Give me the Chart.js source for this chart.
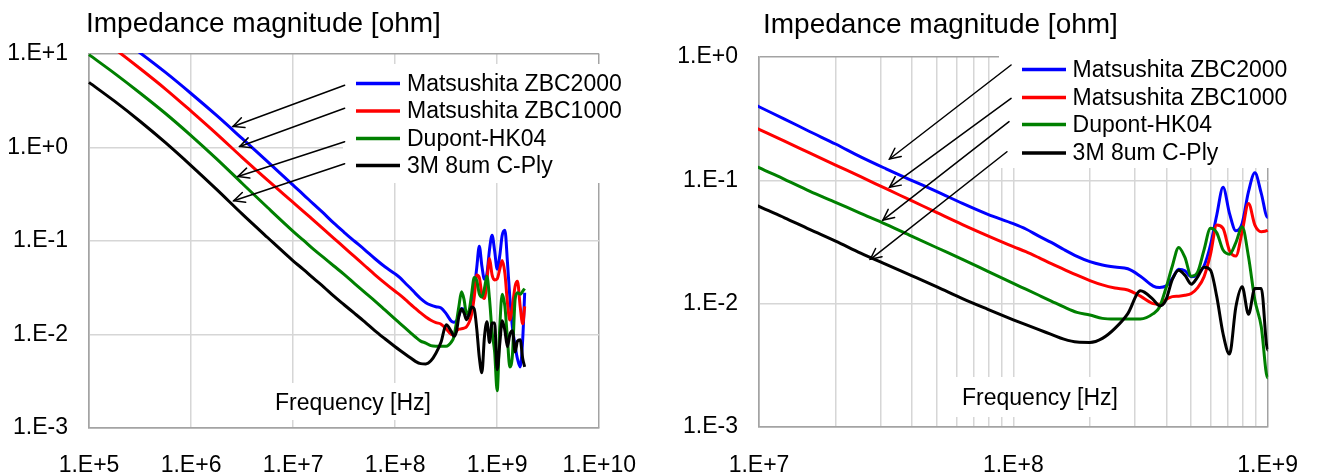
<!DOCTYPE html>
<html><head><meta charset="utf-8">
<script src="https://cdn.jsdelivr.net/npm/chart.js@4.4.1/dist/chart.umd.min.js"></script>
<style>
html,body{margin:0;padding:0;background:#fff;}
#wrap{position:relative;width:1323px;height:474px;overflow:hidden;}
#c1{position:absolute;left:0;top:0;}
#c2{position:absolute;left:660px;top:0;}
</style></head><body>
<div id="wrap">
<canvas id="c1" width="660" height="474" style="width:660px;height:474px"></canvas>
<canvas id="c2" width="663" height="474" style="width:663px;height:474px"></canvas>
</div>
<script>
// ---------- data ----------
const freq = [
  1e5, 1.78e5, 3.16e5, 5.62e5, 1e6, 1.78e6, 3.16e6, 5.62e6,
  1e7, 1.26e7, 1.58e7, 2e7, 2.51e7, 3.16e7, 3.98e7, 5.01e7, 6.31e7, 7.94e7,
  1e8, 1.12e8, 1.26e8, 1.41e8, 1.58e8, 1.78e8, 2e8, 2.24e8, 2.51e8, 2.82e8, 3.16e8,
  3.55e8, 3.76e8, 3.98e8, 4.22e8, 4.47e8, 4.73e8, 5.01e8, 5.31e8, 5.62e8, 5.96e8,
  6.31e8, 6.68e8, 7.08e8, 7.5e8, 7.94e8, 8.41e8, 8.91e8, 9.44e8, 1e9,
  1.06e9, 1.12e9, 1.19e9, 1.26e9, 1.33e9, 1.41e9, 1.5e9, 1.58e9, 1.68e9, 1.78e9, 1.86e9
];
const zbc2000 = [
  25, 16.3, 10.3, 6.35, 3.78, 2.2, 1.25, 0.705,
  0.395, 0.314, 0.249, 0.197, 0.155, 0.124, 0.1, 0.081, 0.065, 0.053,
  0.0445, 0.0403, 0.0353, 0.0314, 0.0275, 0.0242, 0.0219, 0.0206, 0.0198, 0.0192, 0.0167,
  0.0139, 0.01355, 0.0139, 0.016, 0.019, 0.0185, 0.0165, 0.0174, 0.0202, 0.0299,
  0.0523, 0.0877, 0.054, 0.039, 0.0448, 0.0809, 0.115, 0.0784, 0.05,
  0.07, 0.115, 0.13, 0.06, 0.025, 0.012, 0.0075, 0.0055, 0.0045, 0.009, 0.028
];
const zbc1000 = [
  18, 11.35, 7.0, 4.22, 2.45, 1.4, 0.785, 0.447,
  0.259, 0.208, 0.167, 0.133, 0.107, 0.0855, 0.0684, 0.0547, 0.0438, 0.0355,
  0.029, 0.0264, 0.0236, 0.0211, 0.019, 0.017, 0.0154, 0.0142, 0.0134, 0.0129, 0.0115,
  0.01, 0.0099, 0.0108, 0.0114, 0.0115, 0.0117, 0.0121, 0.0135, 0.0165, 0.0251,
  0.0434, 0.0408, 0.0269, 0.0243, 0.0383, 0.065, 0.0434, 0.0383, 0.0393,
  0.05, 0.062, 0.045, 0.022, 0.0143, 0.02, 0.033, 0.037, 0.02, 0.013, 0.02
];
const hk04 = [
  9.84, 6.21, 3.83, 2.31, 1.34, 0.755, 0.415, 0.228,
  0.127, 0.102, 0.0819, 0.0663, 0.054, 0.044, 0.0353, 0.0284, 0.0229, 0.0183,
  0.0146, 0.0131, 0.0117, 0.0105, 0.0094, 0.0085, 0.0081, 0.0076, 0.0075, 0.0075, 0.0075,
  0.0083, 0.0094, 0.0133, 0.0202, 0.0286, 0.0237, 0.0167, 0.0181, 0.0272, 0.0408,
  0.0376, 0.0272, 0.0252, 0.0312, 0.042, 0.024, 0.0107, 0.0065, 0.0025,
  0.012, 0.027, 0.02, 0.009, 0.0045, 0.006, 0.024, 0.028, 0.027, 0.029, 0.031
];
const cply = [
  4.97, 3.13, 1.91, 1.125, 0.64, 0.356, 0.195, 0.109,
  0.0614, 0.0497, 0.04, 0.0322, 0.0257, 0.0208, 0.0169, 0.0137, 0.011, 0.009,
  0.0074, 0.00675, 0.00615, 0.00564, 0.00516, 0.00488, 0.00485, 0.00523, 0.0063, 0.0083, 0.0127,
  0.0108, 0.0096, 0.0107, 0.0157, 0.0187, 0.017, 0.0144, 0.0165, 0.0197, 0.0187,
  0.0114, 0.0057, 0.0039, 0.0094, 0.0137, 0.0082, 0.0133, 0.0133, 0.0042,
  0.008, 0.014, 0.011, 0.0074, 0.01, 0.011, 0.0065, 0.0085, 0.0088, 0.0055, 0.0045
];
const seriesNames = ['Matsushita ZBC2000', 'Matsushita ZBC1000', 'Dupont-HK04', '3M 8um C-Ply'];
const seriesColors = ['#0000ff', '#ff0000', '#008000', '#000000'];
const seriesValues = [zbc2000, zbc1000, hk04, cply];

const leftXTicks = [1e5, 1e6, 1e7, 1e8, 1e9, 1e10];
const leftXLabels = ['1.E+5', '1.E+6', '1.E+7', '1.E+8', '1.E+9', '1.E+10'];
const leftYTicks = [1e-3, 1e-2, 1e-1, 1e0, 1e1];
const leftYLabels = ['1.E-3', '1.E-2', '1.E-1', '1.E+0', '1.E+1'];
const rightXTicks = [1e7, 1e8, 1e9];
const rightXLabels = ['1.E+7', '1.E+8', '1.E+9'];
const rightXMinor = [2e7, 3e7, 4e7, 5e7, 6e7, 7e7, 8e7, 9e7, 2e8, 3e8, 4e8, 5e8, 6e8, 7e8, 8e8, 9e8];
const rightYTicks = [1e-3, 1e-2, 1e-1, 1e0];
const rightYLabels = ['1.E-3', '1.E-2', '1.E-1', '1.E+0'];

// arrows: legend -> curve (frequency, impedance)
const leftArrowTailF = [3.2e7, 3.2e7, 3.2e7, 3.2e7];
const leftArrowTailZ = [4.63, 2.63, 1.15, 0.669];
const leftArrowHeadF = [2.58e6, 3.0e6, 2.88e6, 2.62e6];
const leftArrowHeadZ = [1.68, 1.025, 0.49, 0.269];
const rightArrowTailF = [9.8e7, 9.8e7, 9.62e7, 9.44e7];
const rightArrowTailZ = [0.861, 0.462, 0.299, 0.1706];
const rightArrowHeadF = [3.26e7, 3.26e7, 3.07e7, 2.74e7];
const rightArrowHeadZ = [0.149, 0.0878, 0.0476, 0.0229];

const TITLE = 'Impedance magnitude [ohm]';
const XTITLE = 'Frequency [Hz]';

// ---------- helpers ----------
const FAM = "'Liberation Sans', Arial, Helvetica, sans-serif";
const GRID = '#d6d6d6';
const BORDER = '#a3a3a3';
const same = (a, b) => Math.abs(Math.log10(a) - Math.log10(b)) < 1e-6;
const labelFor = (ticks, labels) => (v) => {
  const i = ticks.findIndex(t => same(t, v));
  return i >= 0 ? labels[i] : '';
};

const decoPlugin = {
  id: 'deco',
  beforeDatasetsDraw(chart, args, o) {
    const ctx = chart.ctx;
    ctx.save();
    ctx.fillStyle = '#ffffff';
    const b = o.legendBox;
    ctx.fillRect(b[0], b[1], b[2] - b[0], b[3] - b[1]);
    const f = o.xTitle;
    ctx.fillRect(f.box[0], f.box[1], f.box[2] - f.box[0], f.box[3] - f.box[1]);
    ctx.restore();
  },
  afterDatasetsDraw(chart, args, o) {
    const ctx = chart.ctx;
    const xs = chart.scales.x, ys = chart.scales.y;
    ctx.save();
    const f = o.xTitle;
    ctx.fillStyle = '#000';
    ctx.font = f.size + 'px ' + FAM;
    ctx.textAlign = 'center';
    ctx.textBaseline = 'alphabetic';
    ctx.fillText(XTITLE, f.cx, f.baseline);
    ctx.strokeStyle = '#000';
    ctx.lineWidth = 1.5;
    ctx.lineCap = 'round';
    const A = o.arrows;
    for (let i = 0; i < A.tf.length; i++) {
      const x0 = xs.getPixelForValue(A.tf[i]), y0 = ys.getPixelForValue(A.tz[i]);
      const x1 = xs.getPixelForValue(A.hf[i]), y1 = ys.getPixelForValue(A.hz[i]);
      ctx.beginPath(); ctx.moveTo(x0, y0); ctx.lineTo(x1, y1); ctx.stroke();
      const ang = Math.atan2(y0 - y1, x0 - x1);
      const L = 12, w = 0.45;
      ctx.beginPath();
      ctx.moveTo(x1 + L * Math.cos(ang + w), y1 + L * Math.sin(ang + w));
      ctx.lineTo(x1, y1);
      ctx.lineTo(x1 + L * Math.cos(ang - w), y1 + L * Math.sin(ang - w));
      ctx.stroke();
    }
    const lg = o.legend;
    ctx.lineCap = 'butt';
    ctx.font = lg.size + 'px ' + FAM;
    ctx.textAlign = 'left';
    ctx.textBaseline = 'middle';
    for (let i = 0; i < seriesNames.length; i++) {
      ctx.strokeStyle = seriesColors[i];
      ctx.lineWidth = 3.5;
      ctx.beginPath(); ctx.moveTo(lg.x0, lg.rows[i]); ctx.lineTo(lg.x1, lg.rows[i]); ctx.stroke();
      ctx.fillStyle = '#000';
      ctx.fillText(seriesNames[i], lg.tx, lg.rows[i] + 1);
    }
    ctx.restore();
  },
  afterDraw(chart, args, o) {
    const ctx = chart.ctx;
    ctx.save();
    ctx.fillStyle = '#000';
    ctx.font = o.title.size + 'px ' + FAM;
    ctx.textAlign = 'left';
    ctx.textBaseline = 'alphabetic';
    ctx.fillText(TITLE, o.title.x, o.title.y);
    ctx.restore();
  }
};

function makeDatasets() {
  return seriesNames.map((name, k) => ({
    label: name,
    data: freq.map((f, i) => ({ x: f, y: seriesValues[k][i] })),
    borderColor: seriesColors[k],
    backgroundColor: seriesColors[k],
    borderWidth: 3,
    pointRadius: 0,
    fill: false,
    cubicInterpolationMode: 'monotone',
    clip: 1,
    order: 3 - k
  }));
}

function axis(opts) {
  return {
    type: 'logarithmic',
    min: opts.min, max: opts.max,
    afterBuildTicks: (s) => { s.ticks = opts.grid.map(v => ({ value: v })); },
    afterFit: opts.fit,
    ticks: {
      autoSkip: false, maxRotation: 0, minRotation: 0,
      padding: opts.pad, color: '#000',
      font: { size: 23, family: FAM },
      callback: labelFor(opts.ticks, opts.labels)
    },
    grid: {
      drawTicks: false, lineWidth: 1.5,
      color: (c) => (c.tick && (same(c.tick.value, opts.min) || same(c.tick.value, opts.max))) ? BORDER : GRID
    },
    border: { display: true, color: BORDER, width: 1.5 }
  };
}

Chart.defaults.font.family = FAM;

new Chart(document.getElementById('c1'), {
  type: 'line',
  data: { datasets: makeDatasets() },
  plugins: [decoPlugin],
  options: {
    responsive: false, animation: false, devicePixelRatio: 1,
    layout: { padding: { left: 0, top: 54, right: 60, bottom: 0 } },
    plugins: {
      legend: { display: false }, tooltip: { enabled: false }, title: { display: false },
      deco: {
        title: { x: 86, y: 32, size: 28 },
        legendBox: [343, 64, 660, 183],
        legend: { x0: 356, x1: 400, tx: 407, rows: [83.5, 111, 138.5, 165.5], size: 23 },
        xTitle: { cx: 353, baseline: 409.5, size: 23, box: [270, 383, 437, 420] },
        arrows: { tf: leftArrowTailF, tz: leftArrowTailZ, hf: leftArrowHeadF, hz: leftArrowHeadZ }
      }
    },
    scales: {
      x: axis({ min: 1e5, max: 1e10, grid: leftXTicks, ticks: leftXTicks, labels: leftXLabels, pad: 24, fit: (s) => { s.height = 46; } }),
      y: axis({ min: 1e-3, max: 1e1, grid: leftYTicks, ticks: leftYTicks, labels: leftYLabels, pad: 21, fit: (s) => { s.width = 89; } })
    }
  }
});

new Chart(document.getElementById('c2'), {
  type: 'line',
  data: { datasets: makeDatasets() },
  plugins: [decoPlugin],
  options: {
    responsive: false, animation: false, devicePixelRatio: 1,
    layout: { padding: { left: 0, top: 57, right: 44, bottom: 0 } },
    plugins: {
      legend: { display: false }, tooltip: { enabled: false }, title: { display: false },
      deco: {
        title: { x: 103, y: 32.5, size: 28 },
        legendBox: [339, 40, 663, 168],
        legend: { x0: 362, x1: 406, tx: 412.6, rows: [69.5, 97.5, 124.5, 153], size: 23 },
        xTitle: { cx: 380, baseline: 405, size: 23, box: [290, 377, 465, 417] },
        arrows: { tf: rightArrowTailF, tz: rightArrowTailZ, hf: rightArrowHeadF, hz: rightArrowHeadZ }
      }
    },
    scales: {
      x: axis({ min: 1e7, max: 1e9, grid: rightXTicks.concat(rightXMinor).sort((a, b) => a - b), ticks: rightXTicks, labels: rightXLabels, pad: 25, fit: (s) => { s.height = 47; } }),
      y: axis({ min: 1e-3, max: 1e0, grid: rightYTicks, ticks: rightYTicks, labels: rightYLabels, pad: 21, fit: (s) => { s.width = 99; } })
    }
  }
});
</script>
</body></html>
